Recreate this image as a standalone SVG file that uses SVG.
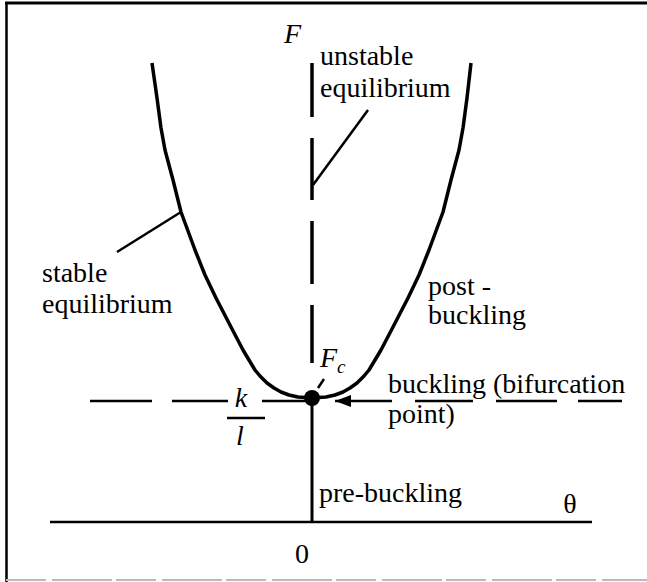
<svg xmlns="http://www.w3.org/2000/svg" width="647" height="582" viewBox="0 0 647 582">
<style>
text{font-size:28px;fill:#000}
.i{font-style:italic}
.ln{stroke:#000;fill:none;stroke-linecap:butt}
</style>
<defs>
<marker id="ah" markerWidth="16" markerHeight="12" refX="16" refY="6" orient="auto" markerUnits="userSpaceOnUse">
<path d="M0,0 L16,6 L0,12 Z" fill="#000"/>
</marker>
</defs>
<rect width="647" height="582" fill="#fff"/>
<g id="frame">
<line x1="5" y1="3" x2="647" y2="3" class="ln" stroke-width="3"/>
<line x1="6.5" y1="2" x2="6.5" y2="582" class="ln" stroke-width="2.5"/>
<line x1="6" y1="580" x2="647" y2="580" stroke="#bbb" stroke-width="2" stroke-dasharray="40 6 60 4"/>
</g>
<g id="connectors">
<line id="theta-axis" x1="50" y1="522" x2="592" y2="522" class="ln" stroke-width="2.5"/>
<line id="pre-buckling-path" x1="312" y1="398" x2="312" y2="522" class="ln" stroke-width="3"/>
<path id="unstable-path" d="M312,63 V117 M312,138 V200 M312,221 V284 M312,305 V363" class="ln" stroke-width="3.5"/>
<path id="stable-curve" d="M152,63 L157,98 L161,128 L165,150 L173,180 L181,212 L195,250 L205,275 L216,298 L231,327 L243,350 L255,370 L260,376 L267,383 L274,388 L281,392 L289,395 L298,397 L312,398 L326,397 L335,395 L343,392 L350,388 L357,383 L364,376 L369,370 L381,350 L393,327 L408,298 L419,275 L429,250 L443,212 L451,180 L459,150 L463,128 L467,98 L471,63" class="ln" stroke-width="3.5" stroke-linejoin="round"/>
<path id="critical-load-line" d="M90,401 H152 M172,401 H228 M262,401 H305 M415,401 H473 M496,401 H557 M578,401 H622" class="ln" stroke-width="2.5"/>
<line id="bifurcation-arrow" x1="392" y1="401" x2="335" y2="401" class="ln" stroke-width="2.5" marker-end="url(#ah)"/>
<line id="stable-pointer" x1="117" y1="252" x2="181" y2="212" class="ln" stroke-width="2.5"/>
<line id="unstable-pointer" x1="313" y1="185" x2="368" y2="110" class="ln" stroke-width="2.5"/>
<line id="fc-pointer" x1="324" y1="379" x2="318" y2="388" class="ln" stroke-width="2.5"/>
<line id="fraction-bar" x1="227" y1="418" x2="265" y2="418" class="ln" stroke-width="2.5"/>
</g>
<g id="bifurcation-point">
<circle cx="312" cy="398" r="8" fill="#000"/>
</g>
<g font-family="Liberation Serif, Times New Roman, DejaVu Serif, serif">
<g id="label-F"><text x="284" y="43" class="i">F</text></g>
<g id="label-unstable"><text><tspan x="320" y="65">unstable</tspan><tspan x="320" y="97">equilibrium</tspan></text></g>
<g id="label-stable"><text><tspan x="42" y="282">stable</tspan><tspan x="42" y="313">equilibrium</tspan></text></g>
<g id="label-post"><text><tspan x="428" y="295">post -</tspan><tspan x="428" y="324">buckling</tspan></text></g>
<g id="label-Fc"><text x="320" y="367" class="i">F<tspan font-size="19" dy="6">c</tspan></text></g>
<g id="label-buckling"><text><tspan x="388" y="393">buckling (bifurcation</tspan><tspan x="388" y="423">point)</tspan></text></g>
<g id="label-kl"><text x="241" y="407" class="i" font-size="26" text-anchor="middle">k</text><text x="240" y="445" class="i" font-size="26" text-anchor="middle">l</text></g>
<g id="label-pre"><text x="319" y="502">pre-buckling</text></g>
<g id="label-theta"><text x="570" y="513" text-anchor="middle">θ</text></g>
<g id="label-zero"><text x="302" y="563" text-anchor="middle">0</text></g>
</g>
</svg>
